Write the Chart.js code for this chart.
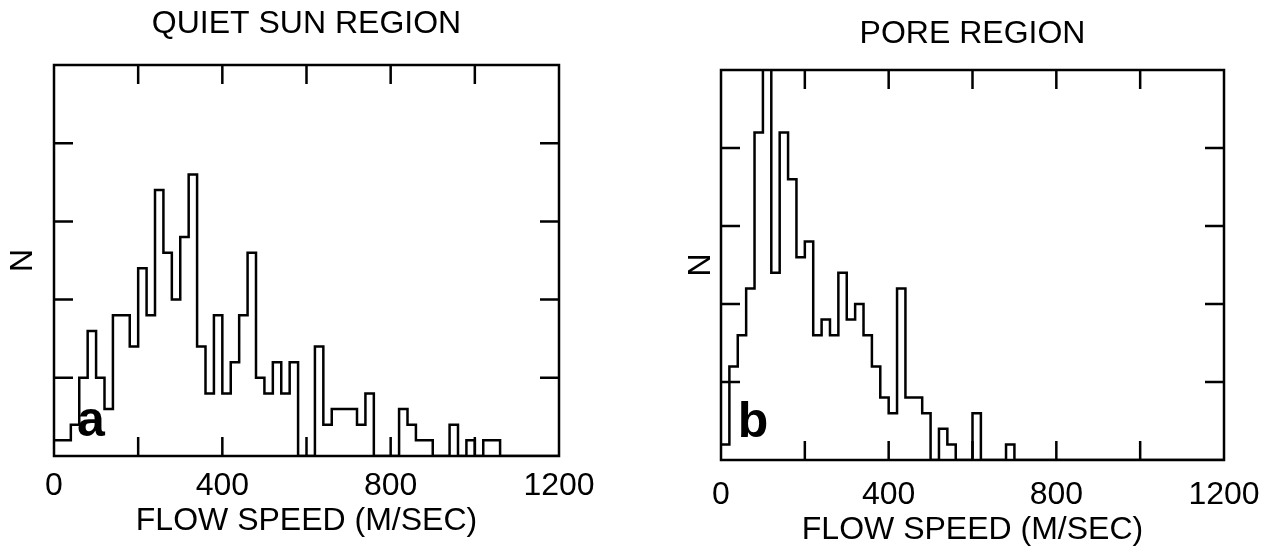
<!DOCTYPE html>
<html>
<head>
<meta charset="utf-8">
<title>Flow speed histograms</title>
<script src="https://cdn.jsdelivr.net/npm/chart.js@4.4.1/dist/chart.umd.min.js"></script>
<style>
  html, body { margin: 0; padding: 0; background: #fff; }
  #wrap { position: relative; width: 1280px; height: 552px; }
  canvas { position: absolute; top: 0; }
  #quietChart { left: 0; }
  #poreChart { left: 640px; }
</style>
</head>
<body>
<div id="wrap">
  <canvas id="quietChart" width="640" height="552"></canvas>
  <canvas id="poreChart" width="640" height="552"></canvas>
</div>
<script>
// histogram bin edges, flow speed in m/s (20 m/s bins)
const binEdges = [0, 20, 40, 60, 80, 100, 120, 140, 160, 180, 200, 220, 240, 260, 280, 300,
    320, 340, 360, 380, 400, 420, 440, 460, 480, 500, 520, 540, 560, 580, 600, 620, 640, 660,
    680, 700, 720, 740, 760, 780, 800, 820, 840, 860, 880, 900, 920, 940, 960, 980, 1000,
    1020, 1040, 1060, 1080, 1100, 1120, 1140, 1160, 1180, 1200];

// counts per bin
const quietCounts = [1, 1, 2, 5, 8, 5, 3, 9, 9, 7,
    12, 9, 17, 13, 10, 14, 18, 7, 4, 9,
    4, 6, 9, 13, 5, 4, 6, 4, 6, 0,
    0, 7, 2, 3, 3, 3, 2, 4, 0, 0,
    0, 3, 2, 1, 1, 0, 0, 2, 0, 1,
    0, 1, 1, 0, 0, 0, 0, 0, 0, 0];

const poreCounts = [1, 6, 8, 11, 21, 30, 12, 21, 18, 13,
    14, 8, 9, 8, 12, 9, 10, 8, 6, 4,
    3, 11, 4, 4, 3, 0, 2, 1, 0, 0,
    3, 0, 0, 0, 1, 0, 0, 0, 0, 0,
    0, 0, 0, 0, 0, 0, 0, 0, 0, 0,
    0, 0, 0, 0, 0, 0, 0, 0, 0, 0];

const xTickLabels = [0, 400, 800, 1200];
const yMax = 25;

Chart.defaults.font.family = "'Liberation Sans', Arial, sans-serif";
Chart.defaults.color = "#000";

// box frame with inward ticks on all four sides, plus the panel letter
const frameAndTicks = {
    id: "frameAndTicks",
    afterDatasetsDraw(chart, args, opts) {
        const {ctx, chartArea: a, scales: {x, y}} = chart;
        const len = 19;
        ctx.save();
        ctx.strokeStyle = "#000";
        ctx.lineWidth = 2.5;
        ctx.strokeRect(a.left, a.top, a.right - a.left, a.bottom - a.top);
        ctx.beginPath();
        x.ticks.forEach(t => {
            if (t.value <= x.min || t.value >= x.max) return;
            const px = x.getPixelForValue(t.value);
            ctx.moveTo(px, a.bottom); ctx.lineTo(px, a.bottom - len);
            ctx.moveTo(px, a.top); ctx.lineTo(px, a.top + len);
        });
        y.ticks.forEach(t => {
            if (t.value <= y.min || t.value >= y.max) return;
            const py = y.getPixelForValue(t.value);
            ctx.moveTo(a.left, py); ctx.lineTo(a.left + len, py);
            ctx.moveTo(a.right, py); ctx.lineTo(a.right - len, py);
        });
        ctx.stroke();
        ctx.font = "bold 50px 'Liberation Sans', Arial, sans-serif";
        ctx.fillStyle = "#000";
        ctx.textAlign = "center";
        ctx.textBaseline = "alphabetic";
        ctx.fillText(opts.letter, a.left + opts.dx, a.bottom - opts.dy);
        ctx.restore();
    }
};

function makeHistogram(canvasId, title, counts, p) {
    const points = binEdges.map((e, i) => ({x: e, y: i < counts.length ? counts[i] : 0}));
    return new Chart(document.getElementById(canvasId), {
        type: "line",
        data: {
            datasets: [{
                data: points,
                stepped: true,
                borderColor: "#000",
                borderWidth: 2.5,
                pointRadius: 0,
                fill: false
            }]
        },
        options: {
            responsive: false,
            animation: false,
            layout: {padding: {left: 0, right: p.right, top: 0, bottom: 0}},
            plugins: {
                legend: {display: false},
                tooltip: {enabled: false},
                title: {
                    display: true,
                    text: title,
                    fullSize: false,
                    color: "#000",
                    font: {size: 32, weight: "normal"},
                    padding: {top: p.titleTop, bottom: p.titleBottom}
                },
                frameAndTicks: {letter: p.letter, dx: p.letterDx, dy: p.letterDy}
            },
            scales: {
                x: {
                    type: "linear",
                    min: 0,
                    max: 1200,
                    grid: {display: false, drawTicks: false},
                    border: {display: false},
                    ticks: {
                        stepSize: 200,
                        autoSkip: false,
                        maxRotation: 0,
                        padding: p.tickPad,
                        font: {size: 32},
                        callback: v => xTickLabels.includes(v) ? String(v) : ""
                    },
                    title: {
                        display: true,
                        text: "FLOW SPEED (M/SEC)",
                        font: {size: 32},
                        padding: {top: 0, bottom: p.xTitlePad}
                    },
                    afterFit: s => { s.height = 552 - p.bottom; }
                },
                y: {
                    min: 0,
                    max: yMax,
                    grid: {display: false, drawTicks: false},
                    border: {display: false},
                    ticks: {display: false, stepSize: 5},
                    title: {
                        display: true,
                        text: "N",
                        font: {size: 32},
                        padding: {top: p.yTitlePad, bottom: 0}
                    },
                    afterFit: s => { s.width = p.left; }
                }
            }
        },
        plugins: [frameAndTicks]
    });
}

makeHistogram("quietChart", "QUIET SUN REGION", quietCounts, {
    left: 54, right: 81, bottom: 456,
    titleTop: 5, titleBottom: 21.6,
    tickPad: 11, xTitlePad: 12, yTitlePad: 4.3,
    letter: "a", letterDx: 37, letterDy: 20
});

makeHistogram("poreChart", "PORE REGION", poreCounts, {
    left: 81, right: 56, bottom: 460,
    titleTop: 14.5, titleBottom: 17.1,
    tickPad: 16, xTitlePad: 3, yTitlePad: 41.8,
    letter: "b", letterDx: 32, letterDy: 23
});
</script>
</body>
</html>
